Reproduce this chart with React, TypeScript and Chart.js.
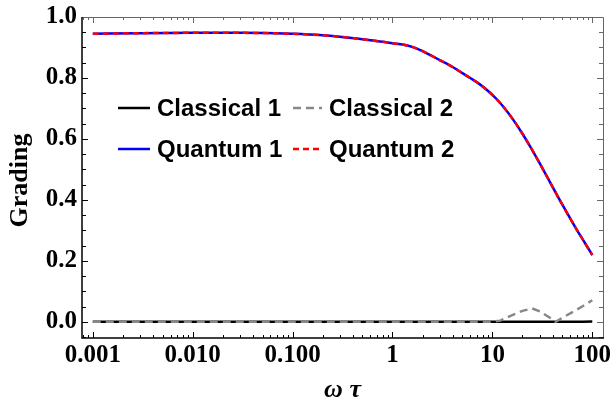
import React, { useEffect, useRef } from "react";
import { Chart, registerables } from "chart.js";

Chart.register(...registerables);

// ---- data ----
const xQuantum = [0.001, 0.003, 0.01, 0.03, 0.1, 0.2, 0.6, 1, 1.3, 1.6, 2, 3, 4, 5, 6, 7.5, 9, 11, 13, 16, 20, 24, 30, 40, 50, 70, 85, 100];
const quantum1 = [0.945, 0.947, 0.948, 0.948, 0.945, 0.94, 0.924, 0.914, 0.909, 0.901, 0.888, 0.858, 0.836, 0.816, 0.8, 0.779, 0.758, 0.731, 0.704, 0.665, 0.617, 0.574, 0.518, 0.443, 0.385, 0.302, 0.257, 0.219];
const quantum2 = [0.945, 0.947, 0.948, 0.948, 0.945, 0.94, 0.924, 0.914, 0.909, 0.901, 0.888, 0.858, 0.836, 0.816, 0.8, 0.779, 0.758, 0.731, 0.704, 0.665, 0.617, 0.574, 0.518, 0.443, 0.385, 0.302, 0.257, 0.219];
const xClassical = [0.001, 1, 10, 12, 15, 20, 25, 30, 35, 40, 43, 50, 65, 80, 100];
const classical1 = [0, 0, 0, 0, 0, 0, 0, 0, 0, 0, 0, 0, 0, 0, 0.001];
const classical2 = [0, 0, 0, 0.004, 0.019, 0.036, 0.044, 0.034, 0.02, 0.008, 0, 0.013, 0.034, 0.051, 0.071];

const seriesLabels = ["Classical 1", "Classical 2", "Quantum 1", "Quantum 2"];
const xMajorTicks = [0.001, 0.01, 0.1, 1, 10, 100];
const xTickLabels = ["0.001", "0.010", "0.100", "1", "10", "100"];
const yMajorTicks = [0, 0.2, 0.4, 0.6, 0.8, 1.0];
const yTickLabels = ["0.0", "0.2", "0.4", "0.6", "0.8", "1.0"];
const xRange = [0.00078, 128];
const yRange = [-0.053, 1.0];
const xTitle = "ω τ";
const yTitle = "Grading";

const pts = (xs: number[], ys: number[]) => xs.map((x, i) => ({ x, y: ys[i] }));
const SERIF = "'Liberation Serif', 'Times New Roman', serif";

const framePlugin = {
  id: "frameTicks",
  afterDatasetsDraw(chart: any) {
    const { ctx, chartArea, scales } = chart;
    const { left, right, top, bottom } = chartArea;
    const xs = scales.x;
    const ys = scales.y;
    ctx.save();
    ctx.lineWidth = 1;
    const dark = "#000000";
    const grey = "#666666";
    // x ticks
    const xMinor: number[] = [];
    for (let d = -4; d <= 2; d++) {
      for (let k = 2; k <= 9; k++) {
        const v = Number((k * Math.pow(10, d)).toPrecision(3));
        if (v >= xRange[0] && v <= xRange[1]) xMinor.push(v);
      }
    }
    const xTick = (v: number, len: number) => {
      const px = Math.round(xs.getPixelForValue(v)) + 0.5;
      ctx.strokeStyle = dark;
      ctx.beginPath();
      ctx.moveTo(px, bottom);
      ctx.lineTo(px, bottom - len);
      ctx.stroke();
      ctx.strokeStyle = grey;
      ctx.beginPath();
      ctx.moveTo(px, top);
      ctx.lineTo(px, top + len);
      ctx.stroke();
    };
    xMinor.forEach((v) => xTick(v, 3));
    xMajorTicks.forEach((v) => xTick(v, 6));
    // y ticks
    const yTick = (v: number, len: number) => {
      const py = Math.round(ys.getPixelForValue(v)) + 0.5;
      ctx.strokeStyle = dark;
      ctx.beginPath();
      ctx.moveTo(left, py);
      ctx.lineTo(left + len, py);
      ctx.stroke();
      ctx.strokeStyle = grey;
      ctx.beginPath();
      ctx.moveTo(right, py);
      ctx.lineTo(right - len, py);
      ctx.stroke();
    };
    for (let i = -1; i <= 20; i++) {
      const v = i * 0.05;
      if (v < yRange[0] || v > yRange[1]) continue;
      if (i % 4 === 0) continue;
      yTick(v, 4);
    }
    yMajorTicks.forEach((v) => yTick(v, 6));
    // frame
    ctx.strokeStyle = grey;
    ctx.beginPath();
    ctx.moveTo(left, top + 0.5);
    ctx.lineTo(right + 0.5, top + 0.5);
    ctx.lineTo(right + 0.5, bottom);
    ctx.stroke();
    ctx.strokeStyle = dark;
    ctx.lineWidth = 1.5;
    ctx.beginPath();
    ctx.moveTo(left, top);
    ctx.lineTo(left, bottom);
    ctx.lineTo(right + 1, bottom);
    ctx.stroke();

    // axis titles
    ctx.fillStyle = "#000";
    ctx.font = `italic bold 26px ${SERIF}`;
    ctx.textAlign = "center";
    ctx.textBaseline = "alphabetic";
    ctx.fillText(xTitle, (left + right) / 2, 397);
    ctx.save();
    ctx.translate(27, (top + bottom) / 2 + 3);
    ctx.rotate(-Math.PI / 2);
    ctx.font = `bold 26px ${SERIF}`;
    ctx.fillText(yTitle, 0, 0);
    ctx.restore();

    // legend
    const items = [
      { ds: 0, x: 118, len: 32, y: 108 },
      { ds: 1, x: 293, len: 29, y: 108 },
      { ds: 2, x: 118, len: 32, y: 149 },
      { ds: 3, x: 293, len: 29, y: 149 },
    ];
    ctx.font = "bold 24px 'Liberation Sans', Arial, sans-serif";
    ctx.textBaseline = "alphabetic";
    ctx.textAlign = "left";
    items.forEach((it) => {
      const ds = chart.data.datasets[it.ds];
      ctx.save();
      ctx.lineWidth = 2.5;
      ctx.strokeStyle = ds.borderColor;
      ctx.setLineDash(ds.borderDash || []);
      ctx.beginPath();
      ctx.moveTo(it.x, it.y);
      ctx.lineTo(it.x + it.len, it.y);
      ctx.stroke();
      ctx.restore();
      ctx.fillStyle = "#000";
      ctx.fillText(ds.label, it.x + it.len + 7, it.y + 8);
    });
    ctx.restore();
  },
};

export default function App() {
  const ref = useRef<HTMLCanvasElement | null>(null);
  useEffect(() => {
    document.body.style.margin = "0";
    if (!ref.current) return;
    const chart = new Chart(ref.current, {
      type: "line",
      data: {
        datasets: [
          {
            label: seriesLabels[0],
            data: pts(xClassical, classical1),
            borderColor: "#000000",
            borderWidth: 2.5,
            pointRadius: 0,
            tension: 0,
            order: 4,
          },
          {
            label: seriesLabels[1],
            data: pts(xClassical, classical2),
            borderColor: "#888888",
            borderWidth: 2.5,
            borderDash: [8, 5],
            pointRadius: 0,
            tension: 0,
            order: 3,
          },
          {
            label: seriesLabels[2],
            data: pts(xQuantum, quantum1),
            borderColor: "#0000ff",
            borderWidth: 2.5,
            pointRadius: 0,
            cubicInterpolationMode: "monotone",
            order: 2,
          },
          {
            label: seriesLabels[3],
            data: pts(xQuantum, quantum2),
            borderColor: "#ff0000",
            borderWidth: 2.5,
            borderDash: [6, 4],
            pointRadius: 0,
            cubicInterpolationMode: "monotone",
            order: 1,
          },
        ],
      } as any,
      options: {
        animation: false,
        responsive: false,
        maintainAspectRatio: false,
        layout: { padding: { top: 17, right: 7, left: 0, bottom: 0 } },
        plugins: { legend: { display: false }, tooltip: { enabled: false } },
        scales: {
          x: {
            type: "logarithmic",
            min: xRange[0],
            max: xRange[1],
            grid: { display: false, drawTicks: false },
            border: { display: false },
            afterBuildTicks: (scale: any) => {
              scale.ticks = xMajorTicks.map((v) => ({ value: v }));
            },
            afterFit: (scale: any) => {
              scale.height = 62;
              scale.paddingLeft = 0;
              scale.paddingRight = 0;
            },
            ticks: {
              autoSkip: false,
              maxRotation: 0,
              padding: 3,
              color: "#000",
              font: { family: SERIF, size: 25, weight: "bold" },
              callback: (v: any) => {
                const i = xMajorTicks.findIndex((m) => Math.abs(m - Number(v)) / m < 1e-6);
                return i >= 0 ? xTickLabels[i] : "";
              },
            },
            title: { display: false },
          },
          y: {
            type: "linear",
            min: yRange[0],
            max: yRange[1],
            grid: { display: false, drawTicks: false },
            border: { display: false },
            afterBuildTicks: (scale: any) => {
              scale.ticks = yMajorTicks.map((v) => ({ value: v }));
            },
            afterFit: (scale: any) => {
              scale.width = 82;
              scale.paddingTop = 0;
              scale.paddingBottom = 0;
            },
            ticks: {
              padding: 5,
              color: "#000",
              font: { family: SERIF, size: 25, weight: "bold" },
              callback: (v: any) => {
                const i = yMajorTicks.findIndex((m) => Math.abs(m - Number(v)) < 1e-6);
                return i >= 0 ? yTickLabels[i] : "";
              },
            },
            title: { display: false },
          },
        },
      } as any,
      plugins: [framePlugin],
    });
    return () => chart.destroy();
  }, []);
  return (
    <div style={{ width: 610, height: 400 }}>
      <canvas ref={ref} width={610} height={400} style={{ display: "block" }} />
    </div>
  );
}
